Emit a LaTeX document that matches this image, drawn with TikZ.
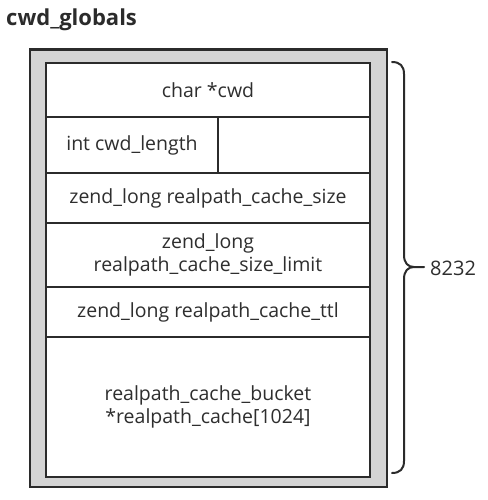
\documentclass[tikz,border=0pt]{standalone}
\usepackage{fontspec}
\setmainfont{Open Sans}
\definecolor{lineC}{HTML}{2B2B2B}
\definecolor{fillC}{HTML}{D4D4D4}
\definecolor{textC}{HTML}{2E2E2E}
\begin{document}
\begin{tikzpicture}[x=1pt,y=-1pt,
  cell/.style={draw=lineC, line width=2pt, fill=white, inner sep=0pt, align=center,
     text=textC, font=\fontsize{19.5}{23}\selectfont, anchor=north west},
]
\useasboundingbox (0,0) rectangle (487,500);
\node[anchor=west, text=lineC, font=\fontsize{22}{24}\selectfont\bfseries, inner sep=0pt] (title) at (6,20) {cwd\_globals};
\node[draw=lineC, line width=2.5pt, fill=fillC, minimum width=357pt, minimum height=437pt, inner sep=0pt, anchor=north west] (outer) at (28.5,48.5) {};
\node[cell, minimum width=324pt, minimum height=54pt] (r1) at (45,62) {char *cwd};
\node[cell, minimum width=172pt, minimum height=56pt] (r2a) at (45,116) {int cwd\_length};
\node[cell, minimum width=152pt, minimum height=56pt] (r2b) at (217,116) {};
\node[cell, minimum width=324pt, minimum height=50pt] (r3) at (45,172) {zend\_long realpath\_cache\_size};
\node[cell, minimum width=324pt, minimum height=64pt] (r4) at (45,222) {zend\_long\\realpath\_cache\_size\_limit};
\node[cell, minimum width=324pt, minimum height=50pt] (r5) at (45,286) {zend\_long realpath\_cache\_ttl};
\node[cell, minimum width=324pt, minimum height=140pt] (r6) at (45,336) {realpath\_cache\_bucket\\*realpath\_cache[1024]};
\coordinate (btop) at (392,62);
\coordinate (bbot) at (392,473);
\coordinate (btip) at (424,267);
\node[anchor=west, inner sep=0pt, text=textC, font=\fontsize{20}{22}\selectfont] (size) at (430,268) {8232};
\draw[lineC, line width=2pt, line cap=round]
  (btop) .. controls (400,62) and (404,66) .. (404,74) -- (404,255)
  .. controls (404,263) and (408,267) .. (414,267) -- (btip);
\draw[lineC, line width=2pt, line cap=round]
  (414,267) .. controls (408,267) and (404,271) .. (404,279) -- (404,461)
  .. controls (404,469) and (400,473) .. (bbot);
\end{tikzpicture}
\end{document}
